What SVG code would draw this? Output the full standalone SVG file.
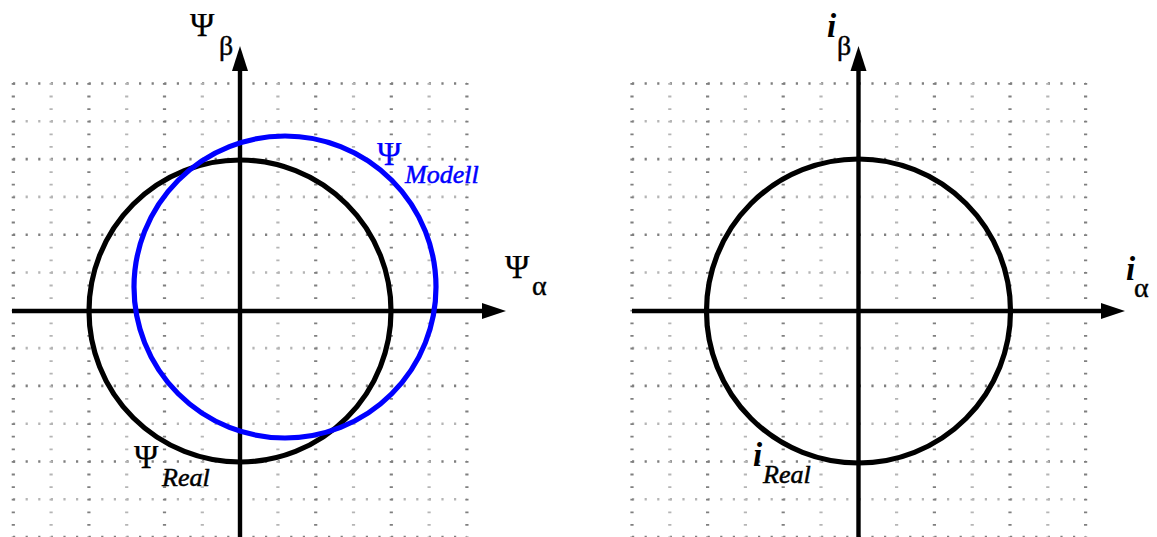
<svg xmlns="http://www.w3.org/2000/svg" width="1157" height="537" viewBox="0 0 1157 537">
<style>
.hd{stroke:#7f7f7f;stroke-width:2.6;stroke-dasharray:2.2 10.4;fill:none}
.hl{stroke:#b5b5b5;stroke-width:2.6;stroke-dasharray:2.2 10.4;fill:none}
.vd{stroke:#7f7f7f;stroke-width:3.2;stroke-dasharray:1.8 10.8;fill:none}
.vl{stroke:#b5b5b5;stroke-width:3.2;stroke-dasharray:1.8 10.8;fill:none}
.ax{stroke:#000;stroke-width:4.4;fill:none}
.ah{fill:#000}
.cb{stroke:#000;stroke-width:5.2;fill:none}
.cbl{stroke:#0000ff;stroke-width:5.2;fill:none}
.t{font-family:"Liberation Serif","Times New Roman",serif;fill:#000;stroke:#000}
.big{font-size:33px;stroke-width:0.25}
.sub{font-size:26px;stroke-width:0.5}
.gr{font-size:28px;stroke-width:0.4}
.it{font-style:italic}
.bi{font-style:italic;font-weight:bold;font-size:33px;stroke-width:0}
.blue{fill:#0000ff;stroke:#0000ff}
</style>
<g id="grid-left">
<path class="hd" d="M13 83.5H467M13 159.1H467M13 234.7H467M13 385.9H467M13 461.5H467M13 537.1H467"/>
<path class="hl" d="M13 121.3H467M13 196.9H467M13 272.5H467M13 348.1H467M13 423.7H467M13 499.3H467"/>
<path class="vd" d="M13.3 83V537M88.9 83V537M164.5 83V537M315.7 83V537M391.3 83V537M466.9 83V537"/>
<path class="vl" d="M51.1 83V537M126.7 83V537M202.3 83V537M277.9 83V537M353.5 83V537M429.1 83V537"/>
</g>
<g id="grid-right">
<path class="hd" d="M632 83.5H1086M632 159.1H1086M632 234.7H1086M632 385.9H1086M632 461.5H1086M632 537.1H1086"/>
<path class="hl" d="M632 121.3H1086M632 196.9H1086M632 272.5H1086M632 348.1H1086M632 423.7H1086M632 499.3H1086"/>
<path class="vd" d="M632 83V537M707.6 83V537M783.2 83V537M934.4 83V537M1010 83V537M1085.6 83V537"/>
<path class="vl" d="M669.8 83V537M745.4 83V537M821 83V537M896.6 83V537M972.2 83V537M1047.8 83V537"/>
</g>
<g id="connectors">
<path class="ax" d="M240 537V68"/>
<polygon class="ah" points="232,71 248,71 240,46"/>
<path class="ax" d="M12 311H484"/>
<polygon class="ah" points="482,303 482,319 506,311"/>
<path class="ax" d="M858.5 537V68"/>
<polygon class="ah" points="850.5,71 866.5,71 858.5,46"/>
<path class="ax" d="M632 311H1103"/>
<polygon class="ah" points="1101,303 1101,319 1125,311"/>
</g>
<g id="psi-real-circle">
<circle class="cb" cx="240" cy="311" r="151"/>
</g>
<g id="psi-modell-circle">
<circle class="cbl" cx="285" cy="287" r="151"/>
</g>
<g id="i-real-circle">
<circle class="cb" cx="858.5" cy="311" r="152"/>
</g>
<g id="label-psi-beta">
<text class="t big" x="190" y="36">Ψ</text>
<text class="t gr" x="219" y="55">β</text>
</g>
<g id="label-psi-alpha">
<text class="t big" x="505" y="278">Ψ</text>
<text class="t gr" x="532" y="295">α</text>
</g>
<g id="label-psi-modell">
<text class="t big blue" x="377" y="165">Ψ</text>
<text class="t sub it blue" x="405" y="183">Modell</text>
</g>
<g id="label-psi-real">
<text class="t big" x="134" y="468">Ψ</text>
<text class="t sub it" x="162" y="486">Real</text>
</g>
<g id="label-i-beta">
<text class="t bi" x="827" y="37">i</text>
<text class="t gr" x="837" y="55">β</text>
</g>
<g id="label-i-alpha">
<text class="t bi" x="1126" y="280">i</text>
<text class="t gr" x="1134" y="297">α</text>
</g>
<g id="label-i-real">
<text class="t bi" x="753" y="466">i</text>
<text class="t sub it" x="763" y="483">Real</text>
</g>
</svg>
